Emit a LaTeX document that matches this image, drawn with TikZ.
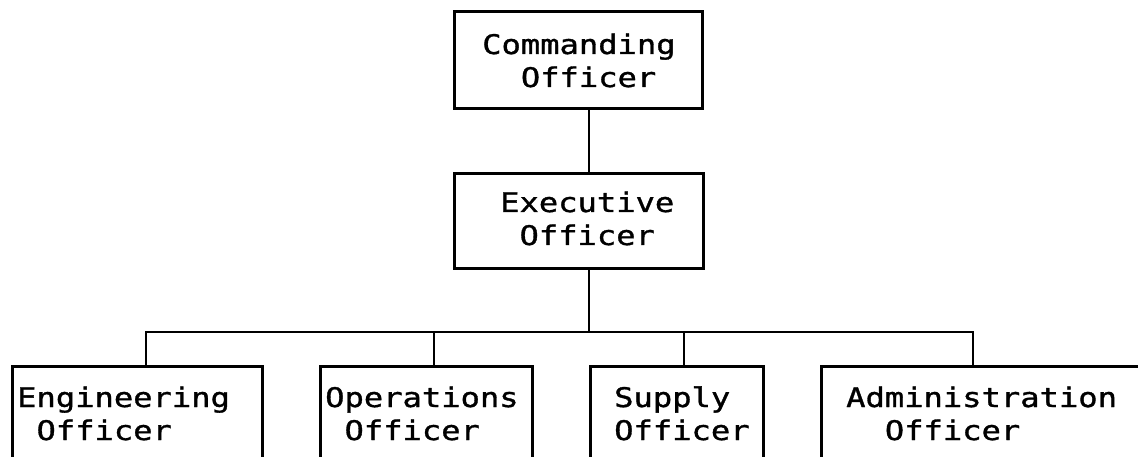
\documentclass[tikz,border=0pt]{standalone}
\usepackage{fontspec}
\newfontfamily\plotfont[FakeStretch=1.19,FakeBold=1.2]{DejaVu Sans Mono}
\usetikzlibrary{calc}
\tikzset{
  orgbox/.style={draw, line width=2.6pt, inner sep=0pt, anchor=north west, minimum width=#1},
  orgtext/.style={inner sep=0pt, anchor=base west, align=left, font=\plotfont\fontsize{27}{33}\selectfont},
  wire/.style={line width=2.6pt}
}
\begin{document}
\begin{tikzpicture}[x=1pt,y=-1pt]
\clip (0,0) rectangle (1138,457);
\fill[white] (0,0) rectangle (1138,457);
% boxes
\node[orgbox=248, minimum height=97] (co) at (453,10) {};
\node[orgbox=249, minimum height=95] (xo) at (453,172) {};
\node[orgbox=250, minimum height=130] (eng) at (11,365) {};
\node[orgbox=212, minimum height=130] (ops) at (319,365) {};
\node[orgbox=173, minimum height=130] (sup) at (589,365) {};
\node[orgbox=330, minimum height=130] (adm) at (820,365) {};
% texts (anchor = baseline of the last line)
\node[orgtext] (coT) at (482,87) {Commanding\\\hphantom{xx}Officer};
\node[orgtext] (xoT) at (500,245) {Executive\\\hphantom{x}Officer};
\node[orgtext] (engT) at (17,440) {Engineering\\\hphantom{x}Officer};
\node[orgtext] (opsT) at (325,440) {Operations\\\hphantom{x}Officer};
\node[orgtext] (supT) at (614,440) {Supply\\Officer};
\node[orgtext] (admT) at (846,440) {Administration\\\hphantom{xx}Officer};
% connectors
\coordinate (j) at (589,332);
\coordinate (bL) at (146,332);
\coordinate (bR) at (973,332);
\coordinate (d2) at (434,332);
\coordinate (d3) at (684,332);
\draw[wire] (co.south -| j) -- (xo.north -| j);
\draw[wire] (xo.south -| j) -- (j);
\draw[wire] (eng.north -| bL) -- (bL) -- (bR) -- (adm.north -| bR);
\draw[wire] (d2) -- (ops.north -| d2);
\draw[wire] (d3) -- (sup.north -| d3);
\end{tikzpicture}
\end{document}
